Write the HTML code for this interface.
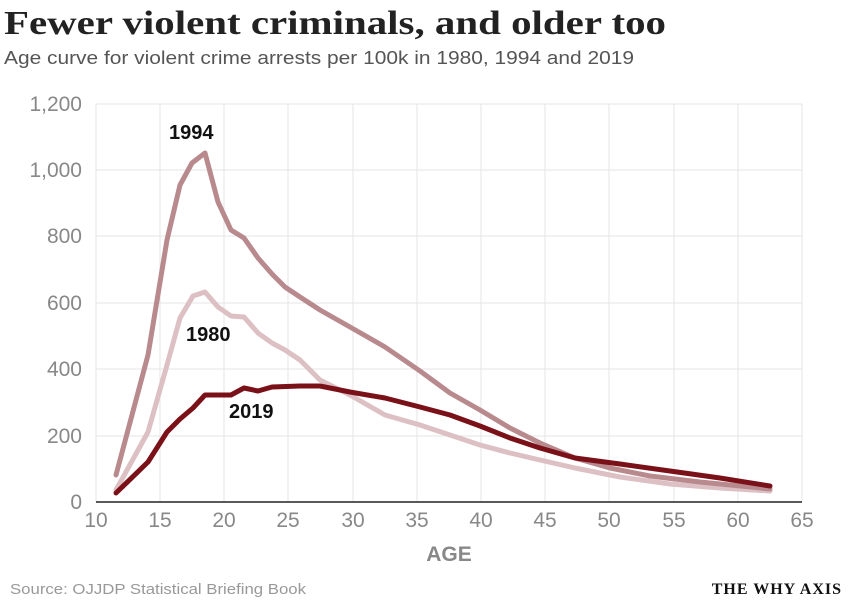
<!DOCTYPE html>
<html><head><meta charset="utf-8"><style>
body{margin:0;background:#fff;width:850px;height:602px;overflow:hidden;font-family:"Liberation Sans",sans-serif}
</style></head><body>
<svg width="850" height="602" viewBox="0 0 850 602" xmlns="http://www.w3.org/2000/svg">
<text x="4" y="34" font-family="Liberation Serif,serif" font-weight="bold" font-size="34" fill="#222" textLength="662" lengthAdjust="spacingAndGlyphs">Fewer violent criminals, and older too</text>
<text x="4" y="64" font-size="18" fill="#555" textLength="630" lengthAdjust="spacingAndGlyphs">Age curve for violent crime arrests per 100k in 1980, 1994 and 2019</text>
<g stroke="#e4e4e4" stroke-width="1">
<line x1="96" y1="104" x2="802" y2="104"/><line x1="96" y1="170" x2="802" y2="170"/><line x1="96" y1="236" x2="802" y2="236"/><line x1="96" y1="303" x2="802" y2="303"/><line x1="96" y1="369" x2="802" y2="369"/><line x1="96" y1="436" x2="802" y2="436"/>
<line x1="96" y1="104" x2="96" y2="502"/><line x1="160" y1="104" x2="160" y2="502"/><line x1="224" y1="104" x2="224" y2="502"/><line x1="288" y1="104" x2="288" y2="502"/><line x1="353" y1="104" x2="353" y2="502"/><line x1="417" y1="104" x2="417" y2="502"/><line x1="481" y1="104" x2="481" y2="502"/><line x1="545" y1="104" x2="545" y2="502"/><line x1="609" y1="104" x2="609" y2="502"/><line x1="674" y1="104" x2="674" y2="502"/><line x1="738" y1="104" x2="738" y2="502"/><line x1="802" y1="104" x2="802" y2="502"/>
</g>
<line x1="96" y1="502" x2="802" y2="502" stroke="#222" stroke-width="1.5"/>
<g font-size="21" fill="#888" text-anchor="end">
<text x="82" y="111">1,200</text><text x="82" y="177">1,000</text><text x="82" y="243">800</text><text x="82" y="310">600</text><text x="82" y="376">400</text><text x="82" y="443">200</text><text x="82" y="509">0</text>
</g>
<g font-size="21" fill="#888" text-anchor="middle">
<text x="96" y="527">10</text><text x="160" y="527">15</text><text x="224" y="527">20</text><text x="288" y="527">25</text><text x="353" y="527">30</text><text x="417" y="527">35</text><text x="481" y="527">40</text><text x="545" y="527">45</text><text x="609" y="527">50</text><text x="674" y="527">55</text><text x="738" y="527">60</text><text x="802" y="527">65</text>
</g>
<text x="449" y="561" font-size="21" font-weight="bold" fill="#888" text-anchor="middle">AGE</text>
<g fill="none" stroke-width="5" stroke-linejoin="round" stroke-linecap="round">
<polyline stroke="#dcc0c3" points="116,490 148,432 167,365 180,318 193,296 205,292 218,307 231,316 244,317 258,333 272,343 285,350 300,360 320,380 350,395 385,415 420,425 450,435 480,445 510,453 540,460 575,468 620,477 670,484 720,488 770,491"/>
<polyline stroke="#b88a8e" points="116,475 148,355 167,240 180,185 192,163 205,153 218,202 231,230 244,238 258,258 272,274 285,287 300,297 320,310 350,327 385,347 420,371 450,393 480,410 510,428 540,443 575,458 610,468 650,476 700,482 770,489"/>
<polyline stroke="#7a1018" points="116,493 148,462 167,432 180,419 193,408 205,395 231,395 244,388 258,391 272,387 300,386 320,386 350,392 385,398 420,407 450,415 480,426 510,438 540,448 575,458 620,464 670,471 720,478 770,486"/>
</g>
<g font-size="20" font-weight="bold" fill="#111">
<text x="169" y="139">1994</text><text x="186" y="341">1980</text><text x="229" y="418">2019</text>
</g>
<text x="10" y="594" font-size="15" fill="#999" textLength="296" lengthAdjust="spacingAndGlyphs">Source: OJJDP Statistical Briefing Book</text>
<text x="842" y="594" font-family="Liberation Serif,serif" font-size="16" font-weight="bold" fill="#111" text-anchor="end" letter-spacing="1">THE WHY AXIS</text>
</svg>
</body></html>
